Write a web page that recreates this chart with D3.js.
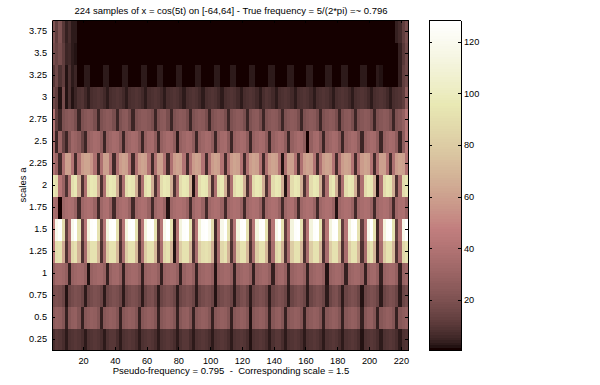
<!DOCTYPE html>
<html>
<head>
<meta charset="utf-8">
<script src="https://cdn.jsdelivr.net/npm/d3@7"></script>
<style>
body { margin: 0; background: #fff; }
text { font-family: "Liberation Sans", sans-serif; font-size: 9.5px; fill: #000; }
</style>
</head>
<body>
<div id="chart"></div>
<script>
var titleText = "224 samples of x = cos(5t) on [-64,64] - True frequency = 5/(2*pi) =~ 0.796";
var xLabelText = "Pseudo-frequency = 0.795  -  Corresponding scale = 1.5";
var yLabelText = "scales a";

var sampleCount = 224;
var samplesPerCell = 2;
var xTicks = [20, 40, 60, 80, 100, 120, 140, 160, 180, 200, 220];
var scaleTicks = [0.25, 0.5, 0.75, 1, 1.25, 1.5, 1.75, 2, 2.25, 2.5, 2.75, 3, 3.25, 3.5, 3.75];
var barTicks = [20, 40, 60, 80, 100, 120];

// |coefficients|, one value for every 2 samples
var row025 = [7,10,9,7,
  3,8,9,10,9,7, 3,8,9,10,9,7, 3,8,10,10,7,
  3,8,9,10,9,7, 3,8,9,10,9,7, 3,8,9,10,9,7, 3,8,10,10,7,
  3,8,9,10,9,7, 3,8,9,10,9,7, 3,8,9,10,9,7, 2,8,9,10,9,7, 3,8,10,10,7,
  3,8,9,10,9,7, 3,8,9,10,9,7, 3,8,9,10,9,7, 3,8,9,10,9,7,
  2,8,9,10,9,7, 3,8,9,10,9,7, 3,8,9];
var row050 = [24,28,27,22,
  4,23,27,28,22, 4,23,26,28,27,22, 4,23,26,28,27,22, 4,23,26,28,27,22, 4,23,26,28,27,22, 4,23,26,28,27,22,
  4,23,27,28,22, 4,23,26,28,27,22, 4,23,26,28,27,22, 4,23,26,28,27,22, 2,23,26,28,27,22,
  4,23,27,28,22, 4,23,26,28,27,22, 4,23,26,28,27,22, 4,23,26,28,27,22, 4,23,26,28,27,22,
  4,23,27,28,22, 4,23,26,28,27,22, 4,23,26,28];
var row075 = [18,20,19,15,
  2,15,18,20,19,15, 3,15,18,20,19,15, 3,15,18,20,19,15, 3,15,18,20,19,15, 3,15,19,20,15,
  3,15,18,20,19,15, 3,15,18,20,19,15, 3,15,18,20,19,15, 2,15,18,20,19,15, 3,15,19,20,15,
  3,15,18,20,19,15, 3,15,18,20,19,15, 3,15,18,20,19,15, 3,15,18,20,19,15, 3,15,19,20,15,
  3,15,18,20,19,15, 2,15,18,20,19,15, 3,15,18,20,19,15, 3,15,18];
var row100 = [26,33,34,32,28,
  4,29,32,34,33,28, 2,29,32,34,33,28, 4,29,33,34,28,
  4,29,32,34,33,28, 4,29,32,34,33,28, 4,29,32,34,33,28, 4,29,33,34,28,
  4,29,32,34,33,28, 2,29,32,34,33,28, 4,29,32,34,33,28, 4,29,32,34,33,28, 4,29,33,34,28,
  4,29,32,34,33,28, 4,29,32,34,33,28, 2,29,32,34,33,28, 4,29,32,34,33,28, 4,29,33,34,28,
  4,29,32,34,33,28, 4,29,32];
var row125 = [44,90,92,64,
  8,36,86,92,68, 8,36,80,92,92,70, 8,36,80,92,92,70, 8,36,80,92,92,70, 8,36,80,92,92,70,
  8,36,86,92,68, 2,36,80,92,92,70, 8,36,80,90,92,88,66,
  4,36,86,92,68, 8,36,80,92,92,70, 8,36,80,92,92,70,
  8,36,86,92,68, 8,36,80,92,92,70, 8,36,80,92,92,70, 8,36,80,92,92,70, 8,36,80,92,92,70,
  8,36,86,92,68, 4,36,80,92,92,70, 8,36,86,92];
var row150 = [50,118,126,88,
  12,42,118,128,92, 12,42,112,126,128,92, 12,42,112,126,128,92, 12,42,112,126,128,92, 12,42,112,126,128,92,
  12,42,118,128,92, 4,42,112,126,128,92, 12,42,110,126,128,120,88,
  6,42,118,128,92, 12,42,112,126,128,92, 12,42,112,126,128,92,
  12,42,118,128,92, 12,42,112,126,128,92, 12,42,112,126,128,92, 12,42,112,126,128,92, 12,42,112,126,128,92,
  12,42,118,128,92, 6,42,112,126,128,92, 12,42,118,128];
var row175 = [36,34,
  1,32,36,38,37,30, 6,32,36,38,37,30, 6,32,37,38,30,
  6,32,36,38,37,30, 6,32,36,38,37,30, 6,32,37,38,30,
  2,32,36,38,38,36,30, 6,32,37,38,30,
  6,32,36,38,37,30, 6,32,36,38,37,30, 6,32,36,38,37,30, 6,32,36,38,37,30, 6,32,37,38,30,
  6,32,36,38,37,30, 6,32,36,38,37,30, 2,32,36,38,37,30, 6,32,36,38,37,30, 6,32,36,38,37,30,
  6,32,37,38,30];
var row200 = [96,90,42,30,
  8,38,90,96,66, 8,38,88,96,94,66, 8,38,88,96,94,66, 8,38,88,96,94,66, 8,38,90,96,66,
  8,38,88,96,94,66, 8,38,88,96,94,66, 2,38,88,96,94,66, 8,38,90,96,66,
  8,38,88,96,94,66, 8,38,88,96,94,66, 8,38,88,96,94,66, 2,38,88,96,94,66, 8,38,88,96,94,66,
  8,38,90,96,66, 8,38,88,96,94,66, 8,38,88,96,94,66, 2,38,88,96,94,66, 8,38,88,94];
var row225 = [40,30,
  6,38,60,60,40, 6,38,58,62,62,56,38, 6,38,60,60,40,
  6,38,58,62,60,40, 6,38,58,62,60,40, 6,38,60,60,40,
  6,38,58,62,60,40, 6,38,58,62,60,40, 6,38,58,62,60,40, 6,38,58,62,60,40, 6,38,58,62,60,40, 6,38,58,62,60,40,
  2,38,60,60,40,
  6,38,58,62,60,40, 6,38,58,62,60,40, 6,38,58,62,60,40, 6,38,58,62,60,40, 6,38,60,60,40,
  6,38,58,62,60,40];
var row250 = [36,5,30,14,5,22,32,30,26,14,
  5,28,32,35,34,26, 5,28,32,35,34,26, 5,28,32,35,34,26, 5,28,34,35,26,
  5,28,32,35,34,26, 3,28,32,35,34,26, 5,28,32,35,34,26, 5,28,34,35,26,
  5,28,32,35,34,26, 5,28,32,35,34,26, 5,28,32,35,34,26, 5,28,32,35,34,26,
  1,28,34,35,26,
  5,28,32,35,34,26, 5,28,32,35,34,26, 5,28,32,35,34,26, 5,28,32,35,34,26,
  5,26,42];
var row275 = [40,12,
  5,20,23,25,24,19, 5,20,23,25,24,19, 5,20,23,25,24,19, 5,20,24,25,19,
  5,20,23,25,25,23,19, 5,20,24,25,19,
  5,20,23,25,24,19, 5,20,23,25,24,19, 5,20,23,25,24,19, 5,20,23,25,24,19, 5,20,24,25,19,
  5,20,23,25,24,19, 5,20,23,25,24,19, 5,20,23,25,24,19, 5,20,23,25,24,19, 5,20,24,25,19,
  5,20,23,25,24,19, 5,20,23,25,24,19, 5,20,23,28,40];
var row300 = [16,12,2,18,2,8,2,5,8,9,6,
  3,7,8,9,8,6, 3,7,8,9,8,6, 3,7,8,9,8,6, 3,7,8,9,8,6, 3,7,8,9,8,6,
  3,7,8,9,8,6, 3,7,8,9,8,6, 3,7,8,9,8,6, 3,7,8,9,8,6, 3,7,9,8,6,
  3,7,8,9,8,6, 3,7,8,9,8,6, 3,7,8,9,8,6, 3,7,8,9,8,6, 3,7,8,9,8,6, 3,7,8,9,8,6,
  3,7,8,9,12,26];
var row325 = [10,16,8,12,2,8,3,5,1,1,
  3,3,1,1,1,1, 3,3,1,1,1,1, 3,3,1,1,1,1, 3,3,1,1,1,
  3,3,1,1,1,1, 3,3,1,1,1,1, 3,3,1,1,1,1, 3,3,1,1,1,
  3,3,1,1,1,1, 3,3,1,1,1,1, 3,3,1,1,1,1, 3,3,1,1,1,1, 3,3,1,1,1,1, 3,3,1,1,1,
  3,3,1,1,1,1, 3,3,1,1,1,
  3,2,1,1,1,1,1,4,12,16];
var row350 = [18,14,18,12,5,6,3,2,
  1,1,1,1,1,1,1,1,1,1,1,1,1,1,1,1,1,1,1,1,
  1,1,1,1,1,1,1,1,1,1,1,1,1,1,1,1,1,1,1,1,
  1,1,1,1,1,1,1,1,1,1,1,1,1,1,1,1,1,1,1,1,
  1,1,1,1,1,1,1,1,1,1,1,1,1,1,1,1,1,1,1,1,
  1,1,1,1,1,1,1,1,1,1,1,1,1,1,1,1,1,1,1,1,
  1,4,10,16];
var row375 = [21,12,20,10,4,7,3,3,
  1,1,1,1,1,1,1,1,1,1,1,1,1,1,1,1,1,1,1,1,
  1,1,1,1,1,1,1,1,1,1,1,1,1,1,1,1,1,1,1,1,
  1,1,1,1,1,1,1,1,1,1,1,1,1,1,1,1,1,1,1,1,
  1,1,1,1,1,1,1,1,1,1,1,1,1,1,1,1,1,1,1,1,
  1,1,1,1,1,1,1,1,1,1,1,1,1,1,1,1,1,1,1,1,
  4,6,12,18];

var rows = [row025, row050, row075, row100, row125, row150, row175, row200,
  row225, row250, row275, row300, row325, row350, row375];

var svgWidth = 600;
var svgHeight = 385;
var plot = {left: 52, right: 408, top: 20, bottom: 350};
var bar = {left: 429, right: 461};

var svg = d3.select("#chart")
  .append("svg")
  .attr("width", svgWidth)
  .attr("height", svgHeight)
  .style("display", "block");

var xScale = d3.scaleLinear().domain([0.5, sampleCount + 0.5]).range([plot.left, plot.right]);
var yScale = d3.scaleLinear().domain([0.125, 3.875]).range([plot.bottom, plot.top]);
var barScale = d3.scaleLinear().domain([0.5, 128.5]).range([plot.bottom, plot.top]);

// MATLAB pink colormap, 128 levels
function pinkColor(v) {
  var gray = (v - 1) / 127;
  var hot = [
    Math.min(1, v / 48),
    Math.max(0, Math.min(1, (v - 48) / 48)),
    Math.max(0, Math.min(1, (v - 96) / 32))
  ];
  var c = hot.map(h => Math.round(255 * Math.sqrt((2 * gray + h) / 3)));
  return d3.rgb(c[0], c[1], c[2]).formatRgb();
}
var colorScale = d3.scaleOrdinal()
  .domain(d3.range(1, 129))
  .range(d3.range(1, 129).map(pinkColor));

// Scalogram cells
rows.forEach(function(row, r) {
  var scale = scaleTicks[r];
  svg.append("g")
    .attr("shape-rendering", "crispEdges")
    .selectAll("rect")
    .data(row)
    .enter()
    .append("rect")
    .attr("x", (d, i) => xScale(i * samplesPerCell + 0.5))
    .attr("width", (d, i) => Math.min(xScale((i + 1) * samplesPerCell + 0.5) + 0.5, plot.right) - xScale(i * samplesPerCell + 0.5))
    .attr("y", yScale(scale + 0.125))
    .attr("height", yScale(scale - 0.125) - yScale(scale + 0.125) + 0.5)
    .attr("fill", d => colorScale(d));
});

// Colorbar
svg.append("g")
  .attr("shape-rendering", "crispEdges")
  .selectAll("rect")
  .data(d3.range(1, 129))
  .enter()
  .append("rect")
  .attr("x", bar.left)
  .attr("width", bar.right - bar.left)
  .attr("y", d => barScale(d + 0.5))
  .attr("height", d => barScale(d - 0.5) - barScale(d + 0.5) + 0.5)
  .attr("fill", d => colorScale(d));

function styleAxis(g) {
  g.attr("shape-rendering", "crispEdges");
  g.selectAll(".domain").attr("stroke", "#000");
  g.selectAll(".tick line").attr("stroke", "#000");
}

// Main axes, ticks point inwards on all four sides
svg.append("g")
  .attr("transform", `translate(0, ${plot.bottom})`)
  .call(d3.axisBottom(xScale).tickValues(xTicks).tickSizeInner(-3).tickSizeOuter(0).tickPadding(7).tickFormat(d3.format("d")))
  .call(styleAxis);
svg.append("g")
  .attr("transform", `translate(0, ${plot.top})`)
  .call(d3.axisTop(xScale).tickValues(xTicks).tickSizeInner(-3).tickSizeOuter(0).tickFormat(""))
  .call(styleAxis);
svg.append("g")
  .attr("transform", `translate(${plot.left}, 0)`)
  .call(d3.axisLeft(yScale).tickValues(scaleTicks).tickSizeInner(-3).tickSizeOuter(0).tickPadding(5).tickFormat(d => String(d)))
  .call(styleAxis);
svg.append("g")
  .attr("transform", `translate(${plot.right}, 0)`)
  .call(d3.axisRight(yScale).tickValues(scaleTicks).tickSizeInner(-3).tickSizeOuter(0).tickFormat(""))
  .call(styleAxis);

// Colorbar axes
svg.append("g")
  .attr("transform", `translate(${bar.left}, 0)`)
  .call(d3.axisLeft(barScale).tickValues(barTicks).tickSizeInner(-3).tickSizeOuter(0).tickFormat(""))
  .call(styleAxis);
svg.append("g")
  .attr("transform", `translate(${bar.right}, 0)`)
  .call(d3.axisRight(barScale).tickValues(barTicks).tickSizeInner(-3).tickSizeOuter(0).tickPadding(3).tickFormat(d3.format("d")))
  .call(styleAxis);
svg.append("line")
  .attr("x1", bar.left).attr("x2", bar.right)
  .attr("y1", plot.top).attr("y2", plot.top)
  .attr("stroke", "#000").attr("shape-rendering", "crispEdges");
svg.append("line")
  .attr("x1", bar.left).attr("x2", bar.right)
  .attr("y1", plot.bottom).attr("y2", plot.bottom)
  .attr("stroke", "#000").attr("shape-rendering", "crispEdges");

// Labels
svg.selectAll(".tick text").style("font-size", "9.2px").style("font-family", "'Liberation Sans', sans-serif");

svg.append("text")
  .attr("x", 231)
  .attr("y", 14)
  .attr("text-anchor", "middle")
  .text(titleText);
svg.append("text")
  .attr("x", 231)
  .attr("y", 374)
  .attr("text-anchor", "middle")
  .style("white-space", "pre")
  .text(xLabelText);
svg.append("text")
  .attr("transform", "translate(26, 185) rotate(-90)")
  .attr("text-anchor", "middle")
  .text(yLabelText);
</script>
</body>
</html>
